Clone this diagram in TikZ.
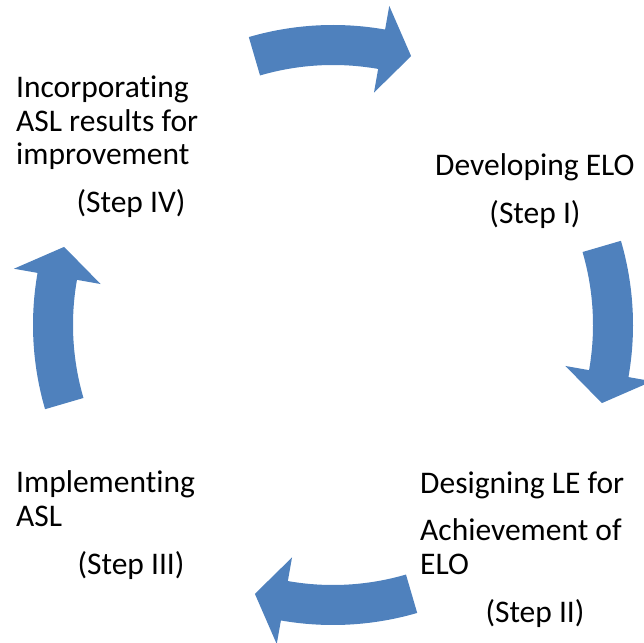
\documentclass[tikz,border=0pt]{standalone}
\usepackage{fontspec}
\setmainfont{Carlito}[Ligatures=NoCommon]

\definecolor{cycleBlue}{RGB}{79,129,189}
\def\arrowColor{cycleBlue}

\tikzset{
    desclabel/.style={font=\fontsize{31.5}{33.5}\selectfont, inner sep=0pt, anchor=base west, align=left},
    steplabel/.style={font=\fontsize{31.5}{33.5}\selectfont, inner sep=0pt, anchor=base},
}

\begin{document}
\begin{tikzpicture}[x=1pt,y=1pt]
    % Define parameters
    \def\rout{300}
    \def\rin{260}
    \def\rmid{280}
    \def\rbout{324}
    \def\rbin{236}

    \useasboundingbox (0,0) rectangle (644,642);
    \coordinate (ctr) at (333,317);

    % four curved arrows, clockwise
    \foreach \c in {90,0,-90,-180}{
        \fill[\arrowColor] ([shift={(\c+16.3:\rout)}]ctr) arc[start angle=\c+16.3, end angle=\c-10, radius=\rout]
            -- ([shift={(\c-10:\rbout)}]ctr)
            -- ([shift={(\c-16.2:\rmid)}]ctr)
            -- ([shift={(\c-10:\rbin)}]ctr)
            -- ([shift={(\c-10:\rin)}]ctr)
            arc[start angle=\c-10, end angle=\c+16.3, radius=\rin] -- cycle;
    }

    % base of a multi-line label is its last line
    \node[desclabel] (incorp) at (16,477) {Incorporating\\ASL results for\\improvement};
    \node[steplabel] (incorpStep) at (131,429) {(Step IV)};

    \node[desclabel] (develop) at (435,466) {Developing ELO};
    \node[steplabel] (developStep) at (535,418) {(Step I)};

    \node[desclabel] (design) at (420,68) {Designing LE for\\[14pt]Achievement of\\ELO};
    \node[steplabel] (designStep) at (535,20) {(Step II)};

    \node[desclabel] (implement) at (16,116) {Implementing\\ASL};
    \node[steplabel] (implementStep) at (131,68) {(Step III)};
\end{tikzpicture}
\end{document}
